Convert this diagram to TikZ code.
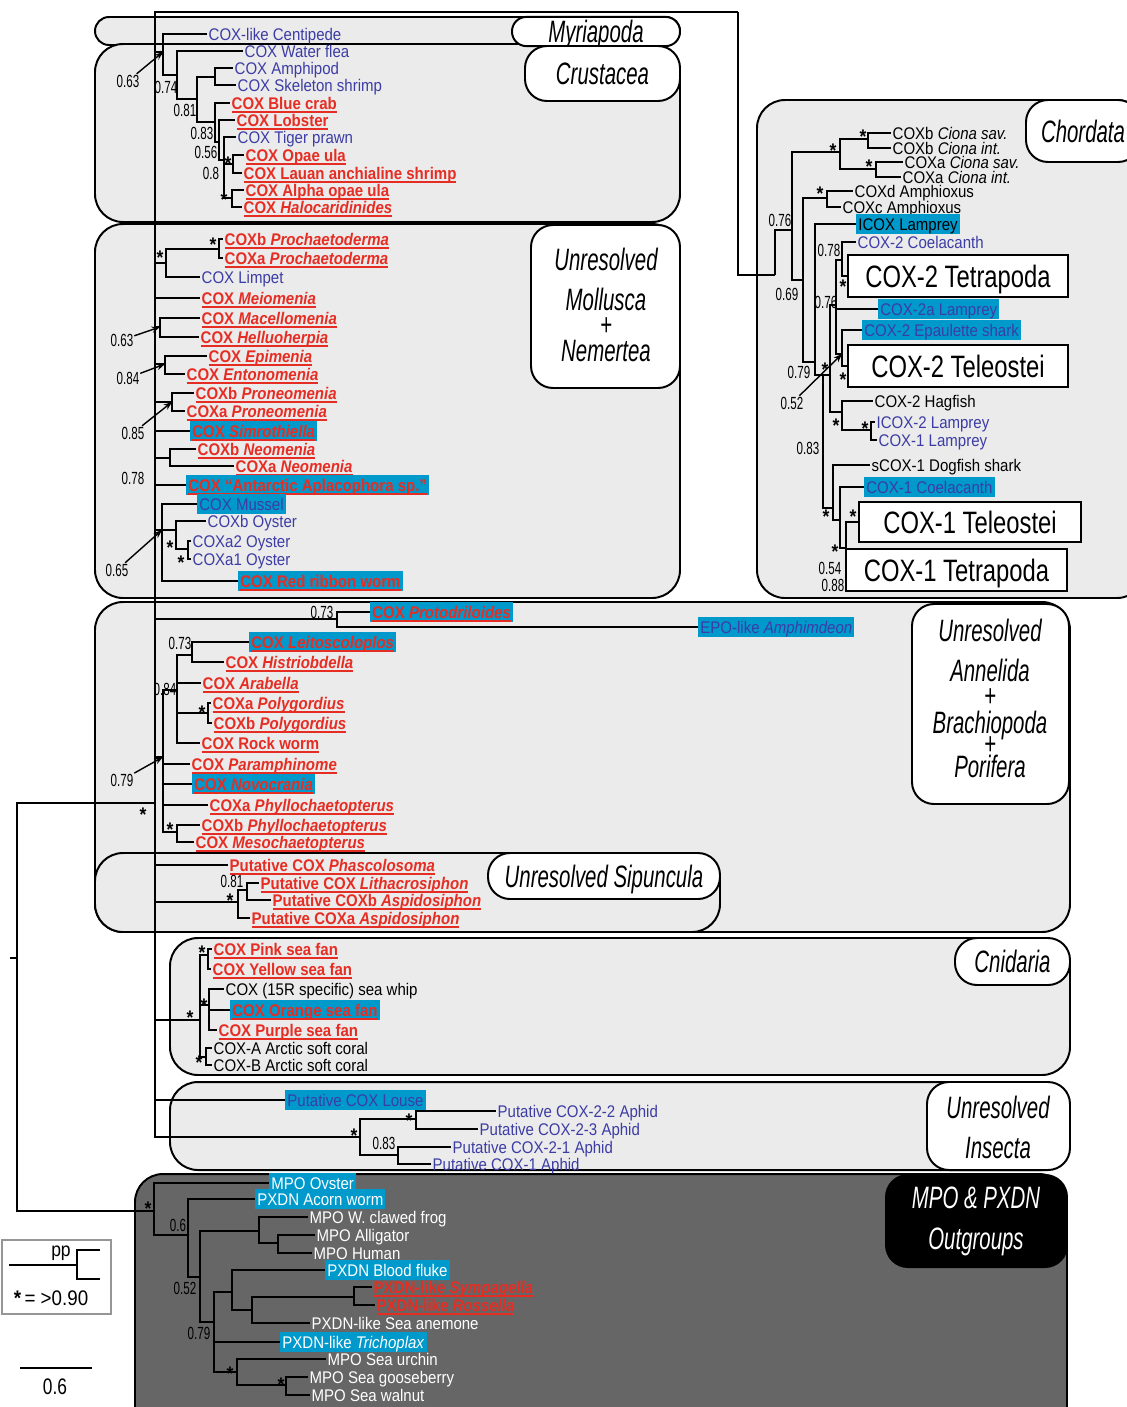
\documentclass[tikz,border=0pt]{standalone}
\usepackage{fontspec}
\setmainfont{Liberation Sans}[FakeStretch=0.89]
\newfontfamily\narrowfont{Liberation Sans}[FakeStretch=0.66]
\newfontfamily\boxfont{Liberation Sans}[FakeStretch=0.77]
\usepackage{xcolor}
\usetikzlibrary{arrows.meta}

\definecolor{cladegray}{RGB}{235,235,235}
\definecolor{outgray}{RGB}{102,102,102}
\definecolor{coxred}{RGB}{230,45,35}
\definecolor{coxblue}{RGB}{60,60,165}
\definecolor{hlblue}{RGB}{0,153,204}
\definecolor{leggray}{RGB}{150,150,150}

\newcommand\rul[1]{\setbox0=\hbox{#1}\rlap{\vrule height -1.2pt depth 2.6pt width \wd0}\box0}

\tikzset{
  clade/.style={draw, line width=1.4pt, fill=cladegray, rounded corners=7mm},
  tag/.style={draw, line width=1.4pt, fill=white, rounded corners=5.5mm, inner sep=0pt},
  grp/.style={font=\narrowfont\itshape\fontsize{22}{22}\selectfont, inner sep=0pt, text height=15.7pt, text depth=0pt},
  bigbox/.style={draw, line width=1.4pt, fill=white, inner sep=0pt, text height=15.7pt, text depth=0pt, font=\boxfont\fontsize{22}{22}\selectfont},
  lf/.style={anchor=west, inner xsep=1pt, inner ysep=0.8pt, text height=10.3pt, text depth=1.7pt, font=\fontsize{12}{12}\selectfont},
  bl/.style={lf, text=coxblue},
  rd/.style={lf, text=coxred, font=\fontsize{12}{12}\selectfont\bfseries},
  bk/.style={lf, text=black},
  wt/.style={lf, text=white},
  hl/.style={fill=hlblue, inner xsep=1.5pt},
  pp/.style={font=\narrowfont\fontsize{12.5}{12.5}\selectfont, inner sep=0.5pt},
  st/.style={font=\fontsize{14}{14}\selectfont\bfseries, inner sep=0pt, yshift=-3pt},
  br/.style={line width=1.3pt},
  bb/.style={line width=1.9pt},
  ptr/.style={line width=1pt, -{Stealth[length=6pt,width=4.5pt]}},
}

\begin{document}
\begin{tikzpicture}[x=0.25mm,y=-0.25mm]
\useasboundingbox (0,0) rectangle (1126,1407);

\draw[clade, rounded corners=3.5mm] (95,17) rectangle (680,45);
\draw[clade] (95,44) rectangle (680,222);
\draw[clade] (95,224) rectangle (680,598);
\draw[clade] (757,100) rectangle (1145,598);
\draw[clade] (95,602) rectangle (1070,932);
\draw[clade] (95,853) rectangle (720,932);
\draw[clade] (170,938) rectangle (1070,1075);
\draw[clade] (170,1082) rectangle (1070,1170);
\draw[clade, fill=outgray] (135,1174) rectangle (1067,1440);

\node[tag, grp, rounded corners=3.6mm, minimum width=42mm, minimum height=7.3mm] (tmyr) at (596,31.5) {Myriapoda};
\node[tag, grp, minimum width=38.75mm, minimum height=13.75mm] (tcru) at (602.5,73.5) {Crustacea};
\node[tag, minimum width=37.25mm, minimum height=40.75mm] (tmol) at (605.5,306.5) {};
\node[grp] (tmol1) at (606,259) {Unresolved};
\node[grp] (tmol2) at (606,299) {Mollusca};
\node[grp] (tmol3) at (606,324) {+};
\node[grp] (tmol4) at (606,350) {Nemertea};
\node[tag, grp, minimum width=28.5mm, minimum height=15.5mm] (tcho) at (1083,131) {Chordata};
\node[tag, minimum width=39.25mm, minimum height=50mm] (tann) at (990.5,704) {};
\node[grp] (tann1) at (990,630) {Unresolved};
\node[grp] (tann2) at (990,670) {Annelida};
\node[grp] (tann3) at (990,695) {+};
\node[grp] (tann4) at (990,722) {Brachiopoda};
\node[grp] (tann5) at (990,743) {+};
\node[grp] (tann6) at (990,766) {Porifera};
\node[tag, grp, minimum width=58mm, minimum height=11.5mm] (tsip) at (604,876) {Unresolved Sipuncula};
\node[tag, grp, minimum width=28.75mm, minimum height=11.75mm] (tcni) at (1012.5,961.5) {Cnidaria};
\node[tag, minimum width=35.75mm, minimum height=22mm] (tins) at (998.5,1126) {};
\node[grp] (tins1) at (998,1107) {Unresolved};
\node[grp] (tins2) at (998,1147) {Insecta};
\node[tag, fill=black, minimum width=45.25mm, minimum height=23mm] (tout) at (976.5,1221) {};
\node[grp, text=white] (tout1) at (976,1197) {MPO \& PXDN};
\node[grp, text=white] (tout2) at (976,1238) {Outgroups};

\node[bigbox, minimum width=55mm, minimum height=10.5mm] (tet2) at (958,276) {COX-2 Tetrapoda};
\node[bigbox, minimum width=55mm, minimum height=10.5mm] (tel2) at (958,366) {COX-2 Teleostei};
\node[bigbox, minimum width=55.5mm, minimum height=10mm] (tel1) at (970,522) {COX-1 Teleostei};
\node[bigbox, minimum width=55.25mm, minimum height=10.5mm] (tet1) at (956.5,570) {COX-1 Tetrapoda};

\node[bl] (centipede) at (207,34) {COX-like Centipede};
\node[bl] (waterflea) at (243,51) {COX Water flea};
\node[bl] (amphipod) at (233,68) {COX Amphipod};
\node[bl] (skeleton) at (236,85) {COX Skeleton shrimp};
\node[rd] (bluecrab) at (230,103) {\rul{COX Blue crab}};
\node[rd] (lobster) at (235,120) {\rul{COX Lobster}};
\node[bl] (tiger) at (236,137) {COX Tiger prawn};
\node[rd] (opaeula) at (244,155) {\rul{COX Opae ula}};
\node[rd] (lauan) at (242,173) {\rul{COX Lauan anchialine shrimp}};
\node[rd] (alphaop) at (244,190) {\rul{COX Alpha opae ula}};
\node[rd] (halo) at (242,207) {\rul{COX \textit{Halocaridinides}}};

\node[rd] (prochb) at (223,239) {\rul{COXb \textit{Prochaetoderma}}};
\node[rd] (procha) at (223,258) {\rul{COXa \textit{Prochaetoderma}}};
\node[bl] (limpet) at (200,277) {COX Limpet};
\node[rd] (meio) at (200,298) {\rul{COX \textit{Meiomenia}}};
\node[rd] (macel) at (200,318) {\rul{COX \textit{Macellomenia}}};
\node[rd] (hell) at (199,337) {\rul{COX \textit{Helluoherpia}}};
\node[rd] (epim) at (207,356) {\rul{COX \textit{Epimenia}}};
\node[rd] (ento) at (185,374) {\rul{COX \textit{Entonomenia}}};
\node[rd] (pronb) at (194,393) {\rul{COXb \textit{Proneomenia}}};
\node[rd] (prona) at (185,411) {\rul{COXa \textit{Proneomenia}}};
\node[rd, hl] (simro) at (190,431) {\rul{COX \textit{Simrothiella}}};
\node[rd] (neob) at (196,449) {\rul{COXb \textit{Neomenia}}};
\node[rd] (neoa) at (234,466) {\rul{COXa \textit{Neomenia}}};
\node[rd, hl] (antarc) at (186,485) {\rul{COX “Antarctic Aplacophora sp.”}};
\node[bl, hl] (mussel) at (197,504) {COX Mussel};
\node[bl] (oysb) at (206,521) {COXb Oyster};
\node[bl] (oysa2) at (191,541) {COXa2 Oyster};
\node[bl] (oysa1) at (191,559) {COXa1 Oyster};
\node[rd, hl] (ribbon) at (238,581) {\rul{COX Red ribbon worm}};

\node[rd, hl] (protod) at (370,612) {\rul{COX \textit{Protodriloides}}};
\node[bl, hl] (epo) at (698,627) {EPO-like \textit{Amphimdeon}};
\node[rd, hl] (leito) at (249,642) {\rul{COX \textit{Leitoscoloplos}}};
\node[rd] (histrio) at (224,662) {\rul{COX \textit{Histriobdella}}};
\node[rd] (arab) at (201,683) {\rul{COX \textit{Arabella}}};
\node[rd] (polya) at (211,703) {\rul{COXa \textit{Polygordius}}};
\node[rd] (polyb) at (212,723) {\rul{COXb \textit{Polygordius}}};
\node[rd] (rock) at (200,743) {\rul{COX Rock worm}};
\node[rd] (param) at (190,764) {\rul{COX \textit{Paramphinome}}};
\node[rd, hl] (novo) at (192,784) {\rul{COX \textit{Novocrania}}};
\node[rd] (phyla) at (208,805) {\rul{COXa \textit{Phyllochaetopterus}}};
\node[rd] (phylb) at (200,825) {\rul{COXb \textit{Phyllochaetopterus}}};
\node[rd] (meso) at (194,842) {\rul{COX \textit{Mesochaetopterus}}};

\node[rd] (phasc) at (228,865) {\rul{Putative COX \textit{Phascolosoma}}};
\node[rd] (litha) at (259,883) {\rul{Putative COX \textit{Lithacrosiphon}}};
\node[rd] (aspb) at (271,900) {\rul{Putative COXb \textit{Aspidosiphon}}};
\node[rd] (aspa) at (250,918) {\rul{Putative COXa \textit{Aspidosiphon}}};

\node[rd] (pink) at (212,949) {\rul{COX Pink sea fan}};
\node[rd] (yellow) at (211,969) {\rul{COX Yellow sea fan}};
\node[bk] (whip) at (224,989) {COX (15R specific) sea whip};
\node[rd, hl] (orange) at (230,1010) {\rul{COX Orange sea fan}};
\node[rd] (purple) at (217,1030) {\rul{COX Purple sea fan}};
\node[bk] (arca) at (212,1048) {COX-A Arctic soft coral};
\node[bk] (arcb) at (212,1065) {COX-B Arctic soft coral};

\node[bl, hl] (louse) at (285,1100) {Putative COX Louse};
\node[bl] (aph22) at (496,1111) {Putative COX-2-2 Aphid};
\node[bl] (aph23) at (478,1129) {Putative COX-2-3 Aphid};
\node[bl] (aph21) at (451,1147) {Putative COX-2-1 Aphid};
\node[bl] (aph1) at (431,1164) {Putative COX-1 Aphid};

\node[wt, hl] (moyster) at (269,1183) {MPO Oyster};
\node[wt, hl] (acorn) at (255,1199) {PXDN Acorn worm};
\node[wt] (frog) at (308,1217) {MPO W. clawed frog};
\node[wt] (allig) at (315,1235) {MPO Alligator};
\node[wt] (human) at (312,1253) {MPO Human};
\node[wt, hl] (fluke) at (325,1270) {PXDN Blood fluke};
\node[rd] (symp) at (372,1287) {\rul{PXDN-like \textit{Sympagella}}};
\node[rd] (ross) at (375,1305) {\rul{PXDN-like \textit{Rossella}}};
\node[wt] (anem) at (310,1323) {PXDN-like Sea anemone};
\node[wt, hl] (trich) at (280,1342) {PXDN-like \textit{Trichoplax}};
\node[wt] (urchin) at (326,1359) {MPO Sea urchin};
\node[wt] (goose) at (308,1377) {MPO Sea gooseberry};
\node[wt] (walnut) at (310,1395) {MPO Sea walnut};

\node[bk] (cbsav) at (891,133) {COXb \textit{Ciona sav.}};
\node[bk] (cbint) at (891,148) {COXb \textit{Ciona int.}};
\node[bk] (casav) at (903,162) {COXa \textit{Ciona sav.}};
\node[bk] (caint) at (901,177) {COXa \textit{Ciona int.}};
\node[bk] (amphd) at (853,191) {COXd Amphioxus};
\node[bk] (amphc) at (841,207) {COXc Amphioxus};
\node[bk, hl] (icox) at (856,224) {ICOX Lamprey};
\node[bl] (coel2) at (856,242) {COX-2 Coelacanth};
\node[bl, hl] (lam2a) at (878,309) {COX-2a Lamprey};
\node[bl, hl] (epau) at (862,330) {COX-2 Epaulette shark};
\node[bk] (hag) at (873,401) {COX-2 Hagfish};
\node[bl] (ilam2) at (875,422) {ICOX-2 Lamprey};
\node[bl] (lam1) at (877,440) {COX-1 Lamprey};
\node[bk] (dog) at (870,465) {sCOX-1 Dogfish shark};
\node[bl, hl] (coel1) at (864,487) {COX-1 Coelacanth};

\coordinate (stub) at (10,958);
\coordinate (root) at (17,958);
\coordinate (ing) at (155,803);
\coordinate (mpo) at (154,1211);
\coordinate (topbend) at (738,12);
\coordinate (cm) at (163,52);
\coordinate (cr1) at (177,75);
\coordinate (cr2) at (197,99);
\coordinate (cramph) at (215,77);
\coordinate (cr3) at (215,122);
\coordinate (cr4) at (219,142);
\coordinate (cr5) at (224,160);
\coordinate (cropae) at (233,164);
\coordinate (cralpha) at (232,198);
\coordinate (mpl) at (166,263);
\coordinate (mproch) at (219,249);
\coordinate (mmac) at (160,327);
\coordinate (mepi) at (165,364);
\coordinate (mpro) at (172,402);
\coordinate (mneo) at (170,458);
\coordinate (moys) at (162,530);
\coordinate (moys2) at (176,530);
\coordinate (moysa) at (188,549);
\coordinate (aprot) at (337,619);
\coordinate (an) at (163,757);
\coordinate (an84) at (177,690);
\coordinate (aleit) at (192,655);
\coordinate (apoly) at (208,713);
\coordinate (aphyl) at (177,832);
\coordinate (sip) at (238,902);
\coordinate (sip1) at (247,890);
\coordinate (cn) at (200,1020);
\coordinate (cnpy) at (208,955);
\coordinate (cnsw) at (209,1005);
\coordinate (cnar) at (206,1057);
\coordinate (ins) at (360,1137);
\coordinate (ins1) at (416,1119);
\coordinate (ins2) at (398,1155);
\coordinate (m1) at (188,1235);
\coordinate (m2) at (200,1277);
\coordinate (mfrog) at (259,1231);
\coordinate (mallig) at (278,1243);
\coordinate (m3) at (214,1322);
\coordinate (m4) at (232,1292);
\coordinate (m5) at (252,1310);
\coordinate (msponge) at (354,1297);
\coordinate (m6) at (237,1372);
\coordinate (m7) at (286,1385);
\coordinate (chR) at (775,275);
\coordinate (cn1) at (792,230);
\coordinate (ciona) at (840,152);
\coordinate (cionab) at (868,139);
\coordinate (cionaa) at (876,169);
\coordinate (cn2) at (803,280);
\coordinate (amph) at (827,198);
\coordinate (cn3) at (815,362);
\coordinate (cn4) at (823,375);
\coordinate (cn6) at (830,375);
\coordinate (cn7) at (836,305);
\coordinate (ctet) at (842,260);
\coordinate (ctel) at (842,354);
\coordinate (chag) at (842,412);
\coordinate (clam) at (871,430);
\coordinate (cn9) at (833,508);
\coordinate (cn10) at (840,520);
\coordinate (cn11) at (846,548);

\draw[br] (stub) -- (root);
\draw[br] (root) |- (ing);
\draw[br] (root) |- (mpo);
\draw[bb] (ing) |- (topbend);
\draw[br] (topbend) |- (chR);
\foreach \c in {cm,mpl,meio,mmac,mepi,mpro,simro,mneo,antarc,moys,aprot,an,phasc,sip,cn,louse,ins}
  \draw[bb] (ing) |- (\c);
\foreach \p/\c in {cm/centipede, cm/cr1, cr1/waterflea, cr1/cr2, cr2/cramph, cr2/cr3,
    cramph/amphipod, cramph/skeleton, cr3/bluecrab, cr3/cr4, cr4/lobster, cr4/cr5,
    cr5/tiger, cr5/cropae, cr5/cralpha, cropae/opaeula, cropae/lauan, cralpha/alphaop, cralpha/halo,
    mpl/mproch, mpl/limpet, mproch/prochb, mproch/procha, mmac/macel, mmac/hell,
    mepi/epim, mepi/ento, mpro/pronb, mpro/prona, mneo/neob, mneo/neoa,
    moys/mussel, moys/moys2, moys/ribbon, moys2/oysb, moys2/moysa, moysa/oysa2, moysa/oysa1,
    aprot/protod, aprot/epo, an/an84, an/param, an/novo, an/phyla, an/aphyl,
    an84/aleit, an84/arab, an84/apoly, an84/rock, aleit/leito, aleit/histrio,
    apoly/polya, apoly/polyb, aphyl/phylb, aphyl/meso,
    sip/sip1, sip/aspa, sip1/litha, sip1/aspb,
    cn/cnpy, cn/cnsw, cn/cnar, cnpy/pink, cnpy/yellow, cnsw/whip, cnsw/orange, cnsw/purple,
    cnar/arca, cnar/arcb,
    ins/ins1, ins/ins2, ins1/aph22, ins1/aph23, ins2/aph21, ins2/aph1,
    mpo/moyster, mpo/m1, m1/acorn, m1/m2, m2/mfrog, m2/m3, mfrog/frog, mfrog/mallig,
    mallig/allig, mallig/human, m3/m4, m3/trich, m3/m6, m4/fluke, m4/m5,
    m5/msponge, m5/anem, msponge/symp, msponge/ross, m6/urchin, m6/m7, m7/goose, m7/walnut,
    chR/cn1, cn1/ciona, cn1/cn2, ciona/cionab, ciona/cionaa, cionab/cbsav, cionab/cbint,
    cionaa/casav, cionaa/caint, cn2/amph, cn2/cn3, amph/amphd, amph/amphc,
    cn3/icox, cn3/cn4, cn4/cn6, cn4/cn9, cn6/cn7, cn6/chag, cn7/ctet, cn7/lam2a, cn7/ctel,
    ctet/coel2, ctet/tet2, ctel/epau, ctel/tel2, chag/hag, chag/clam, clam/ilam2, clam/lam1,
    cn9/dog, cn9/cn10, cn10/coel1, cn10/cn11, cn11/tel1, cn11/tet1}
  \draw[br] (\p) |- (\c);

\node[pp] (lc63) at (128,81) {0.63};
\node[pp] (lc74) at (166,87) {0.74};
\node[pp] (lc81) at (185,110) {0.81};
\node[pp] (lc83) at (202,133) {0.83};
\node[pp] (lc56) at (206,152) {0.56};
\node[pp] (lc8) at (211,173) {0.8};
\node[st] (sc1) at (228,160) {*};
\node[st] (sc2) at (224,196) {*};
\node[st, scale=0.6] (sc3) at (161,51) {*};
\draw[ptr] (lc63) -- (cm);

\node[pp] (lm63) at (122,340) {0.63};
\node[pp] (lm84) at (128,378) {0.84};
\node[pp] (lm85) at (133,433) {0.85};
\node[pp] (lm78) at (133,478) {0.78};
\node[pp] (lm65) at (117,570) {0.65};
\node[st] (sm1) at (213,241) {*};
\node[st] (sm2) at (160,254) {*};
\node[st] (sm3) at (170,544) {*};
\node[st] (sm4) at (181,558) {*};
\draw[ptr] (lm63) -- (mmac);
\draw[ptr] (lm84) -- (mepi);
\draw[ptr] (lm85) -- (mpro);
\draw[ptr] (lm65) -- (moys);

\node[pp] (la73a) at (322,612) {0.73};
\node[pp] (la73b) at (180,643) {0.73};
\node[pp] (la84) at (165,689) {0.84};
\node[pp] (la79) at (122,780) {0.79};
\node[st] (sa1) at (202,708) {*};
\node[st] (sa2) at (170,825) {*};
\node[st] (sa3) at (143,810) {*};
\draw[ptr] (la79) -- (an);

\node[pp] (ls81) at (232,881) {0.81};
\node[st] (ss1) at (230,896) {*};

\node[st] (sn1) at (202,948) {*};
\node[st] (sn2) at (204,1001) {*};
\node[st] (sn3) at (190,1013) {*};
\node[st] (sn4) at (199,1058) {*};

\node[pp] (li83) at (384,1143) {0.83};
\node[st] (si1) at (354,1131) {*};
\node[st] (si2) at (409,1116) {*};

\node[st] (so1) at (148,1204) {*};
\node[pp] (lo6) at (178,1225) {0.6};
\node[pp] (lo52) at (185,1288) {0.52};
\node[pp] (lo79) at (199,1333) {0.79};
\node[st] (so2) at (230,1369) {*};
\node[st] (so3) at (281,1380) {*};

\node[pp] (lh76a) at (780,220) {0.76};
\node[pp] (lh69) at (787,294) {0.69};
\node[pp] (lh78) at (829,250) {0.78};
\node[pp] (lh76b) at (826,302) {0.76};
\node[pp] (lh79) at (799,372) {0.79};
\node[pp] (lh52) at (792,403) {0.52};
\node[pp] (lh83) at (808,448) {0.83};
\node[pp] (lh54) at (830,568) {0.54};
\node[pp] (lh88) at (833,585) {0.88};
\node[st] (sh1) at (863,133) {*};
\node[st] (sh2) at (869,163) {*};
\node[st] (sh3) at (833,147) {*};
\node[st] (sh4) at (820,190) {*};
\node[st] (sh5) at (843,283) {*};
\node[st] (sh6) at (825,366) {*};
\node[st] (sh7) at (843,376) {*};
\node[st] (sh8) at (836,422) {*};
\node[st] (sh9) at (865,425) {*};
\node[st] (sh10) at (826,513) {*};
\node[st] (sh11) at (853,513) {*};
\node[st] (sh12) at (835,548) {*};
\draw[ptr] (lh52) -- (ctel);

\draw[line width=1.5pt, draw=leggray, fill=white] (2,1240) rectangle (111,1314);
\coordinate (lgroot) at (9,1265);
\coordinate (lgnode) at (77,1265);
\coordinate (lgtop) at (100,1250);
\coordinate (lgbot) at (100,1279);
\draw[br] (lgroot) -- (lgnode);
\draw[br] (lgnode) |- (lgtop);
\draw[br] (lgnode) |- (lgbot);
\node[font=\fontsize{14}{14}\selectfont, inner sep=0pt] (lgpp) at (61,1253) {pp};
\node[font=\fontsize{15}{15}\selectfont, inner sep=0pt] (lgkey) at (51,1298) {\textbf{*}\,= >0.90};

\coordinate (sb1) at (20,1368);
\coordinate (sb2) at (92,1368);
\draw[br] (sb1) -- (sb2);
\node[font=\boxfont\fontsize{16}{16}\selectfont, inner sep=0pt] (sblab) at (55,1387) {0.6};
\end{tikzpicture}
\end{document}
